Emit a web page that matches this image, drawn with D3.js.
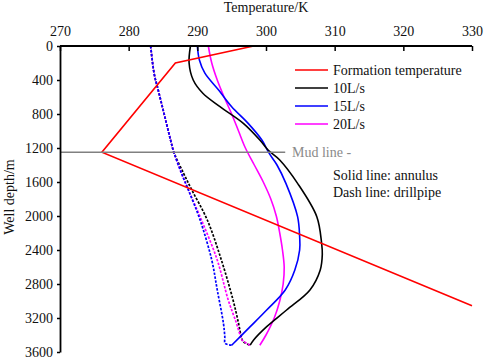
<!DOCTYPE html>
<html lang="en">
<head>
<meta charset="UTF-8">
<title>Well temperature profile</title>
<style>
  body { margin: 0; background: #fff; }
  svg { display: block; }
  svg text { font-family: 'Liberation Serif', 'DejaVu Serif', serif !important; font-size: 14px; fill: #111; }
</style>
</head>
<body>
<svg id="chart" width="484" height="360"></svg>
<script src="https://d3js.org/d3.v7.min.js"></script>
<script>
// ---- data (depth in m, temperature in K) ----
const xTicks = [270, 280, 290, 300, 310, 320, 330];
const yTicks = [0, 400, 800, 1200, 1600, 2000, 2400, 2800, 3200, 3600];
const mudLineDepth = 1250;

const formationDepth = [0, 200, 1250, 3055];
const formationTemp  = [298.2, 286.8, 276.1, 330];

// annulus (solid)
const ann10Depth = [0, 200, 400, 556, 714, 910, 1106, 1224, 1341, 1616, 2008, 2322, 2450, 2635, 2870, 3106, 3302, 3459, 3520];
const ann10Temp  = [289.0, 288.8, 289.4, 290.8, 293.3, 296.7, 299.1, 300.3, 302.0, 304.6, 307.4, 308.1, 308.2, 307.9, 306.4, 303.0, 300.1, 298.2, 297.7];
const ann15Depth = [0, 165, 320, 518, 714, 910, 1106, 1255, 1400, 1616, 2008, 2243, 2400, 2635, 2870, 3106, 3302, 3520];
const ann15Temp  = [290.0, 290.3, 291.1, 293.1, 295.0, 297.4, 299.4, 300.4, 301.6, 302.9, 304.6, 304.9, 304.9, 304.2, 302.8, 300.1, 297.7, 295.0];
const ann20Depth = [0, 200, 400, 600, 800, 1000, 1200, 1400, 1600, 1800, 2000, 2200, 2400, 2600, 2800, 3000, 3200, 3400, 3520];
const ann20Temp  = [291.6, 292.1, 292.9, 293.9, 295.0, 296.0, 297.0, 298.3, 299.6, 300.7, 301.5, 302.0, 302.4, 302.65, 302.5, 302.0, 301.2, 300.0, 299.1];

// drillpipe (dashed)
const dp10Depth = [0, 320, 518, 714, 910, 1106, 1255, 1498, 1694, 2047, 2518, 2988, 3262, 3420, 3479, 3520];
const dp10Temp  = [283.2, 283.7, 284.3, 284.9, 285.5, 286.1, 286.6, 288.0, 289.2, 291.45, 293.5, 295.2, 296.0, 296.4, 296.7, 297.7];
const dp15Depth = [0, 320, 518, 714, 910, 1106, 1255, 1498, 1694, 2047, 2518, 2870, 3262, 3420, 3498, 3520];
const dp15Temp  = [283.2, 283.7, 284.3, 284.9, 285.5, 286.1, 286.6, 287.7, 288.7, 290.4, 292.1, 292.9, 293.8, 294.0, 294.05, 295.0];
const dp20Depth = [0, 320, 518, 714, 910, 1106, 1255, 1498, 1694, 2047, 2518, 2988, 3262, 3420, 3459, 3520];
const dp20Temp  = [283.2, 283.7, 284.3, 284.9, 285.5, 286.1, 286.6, 287.7, 288.7, 290.6, 292.9, 294.5, 295.7, 296.3, 296.5, 297.7];

const legendNames  = ["Formation temperature", "10L/s", "15L/s", "20L/s"];
const legendColors = ["#ff0000", "#000000", "#0000ff", "#ff00ff"];

const zip = (d, t) => d.map((v, i) => ({ depth: v, temp: t[i] }));

// ---- layout ----
const svg = d3.select("#chart");
const x = d3.scaleLinear().domain([270, 330]).range([60, 472]);
const y = d3.scaleLinear().domain([0, 3600]).range([46, 352]);

const smooth = d3.line().x(d => x(d.temp)).y(d => y(d.depth)).curve(d3.curveCatmullRom.alpha(0.5));
const straight = d3.line().x(d => x(d.temp)).y(d => y(d.depth));

// drillpipe dashed
[[dp10Depth, dp10Temp, "#000"], [dp20Depth, dp20Temp, "#ff00ff"], [dp15Depth, dp15Temp, "#0000ff"]].forEach(([d, t, c]) => {
  svg.append("path").attr("d", smooth(zip(d, t)))
    .attr("fill", "none").attr("stroke", c).attr("stroke-width", 1.7)
    .attr("stroke-dasharray", "2.5,1.5");
});

// annulus solid
[[ann20Depth, ann20Temp, "#ff00ff"], [ann15Depth, ann15Temp, "#0000ff"], [ann10Depth, ann10Temp, "#000"]].forEach(([d, t, c]) => {
  svg.append("path").attr("d", smooth(zip(d, t)))
    .attr("fill", "none").attr("stroke", c).attr("stroke-width", 1.6);
});

// formation temperature
svg.append("path").attr("d", straight(zip(formationDepth, formationTemp)))
  .attr("fill", "none").attr("stroke", "#ff0000").attr("stroke-width", 1.6);

// mud line
svg.append("line")
  .attr("x1", x(270)).attr("x2", x(302.8))
  .attr("y1", y(mudLineDepth)).attr("y2", y(mudLineDepth))
  .attr("stroke", "#808080").attr("stroke-width", 1.5);
svg.append("text").attr("x", 292).attr("y", y(mudLineDepth) + 5)
  .style("fill", "#8a8a8a").text("Mud line -");

// axes
const xAxis = svg.append("g").attr("transform", `translate(0,${y(0)})`)
  .call(d3.axisTop(x).tickValues(xTicks).tickFormat(d3.format("d")).tickSizeInner(-5).tickSizeOuter(0).tickPadding(10));
const yAxis = svg.append("g").attr("transform", `translate(${x(270)},0)`)
  .call(d3.axisLeft(y).tickValues(yTicks).tickFormat(d3.format("d")).tickSizeInner(3).tickSizeOuter(0).tickPadding(4));
[xAxis, yAxis].forEach(g => {
  g.attr("font-family", null).attr("font-size", null);
  g.select(".domain").attr("stroke", "#000").attr("stroke-width", 1.8);
  g.selectAll(".tick line").attr("stroke", "#000").attr("stroke-width", 1.5);
  g.selectAll(".tick text").style("fill", "#111");
});
xAxis.select(".domain").attr("d", `M${x(270)},0H${x(330)}`);

// axis titles
svg.append("text").attr("x", x(300)).attr("y", 12).attr("text-anchor", "middle").text("Temperature/K");
svg.append("text").attr("transform", "translate(14,197) rotate(-90)")
  .attr("text-anchor", "middle").text("Well depth/m");

// legend
const legend = svg.append("g");
legendNames.forEach((name, i) => {
  const by = 75 + i * 18;
  legend.append("line").attr("x1", 295).attr("x2", 328).attr("y1", by - 5).attr("y2", by - 5)
    .attr("stroke", legendColors[i]).attr("stroke-width", 1.6);
  legend.append("text").attr("x", 333).attr("y", by).text(name);
});
svg.append("text").attr("x", 333).attr("y", 180).text("Solid line: annulus");
svg.append("text").attr("x", 333).attr("y", 197).text("Dash line: drillpipe");
</script>
</body>
</html>
